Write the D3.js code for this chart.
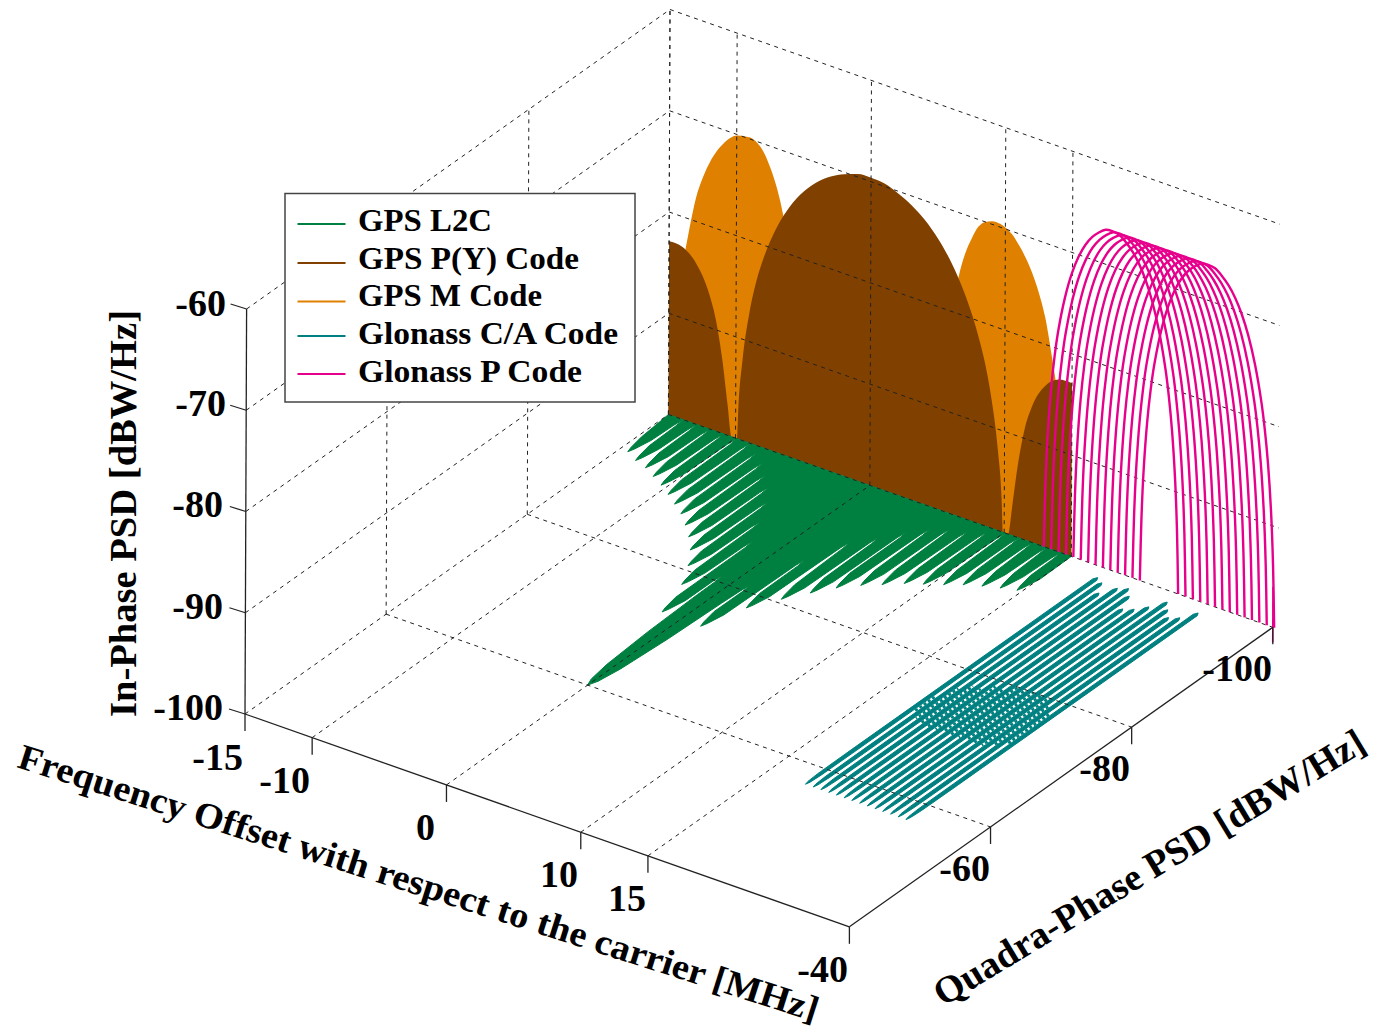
<!DOCTYPE html>
<html><head><meta charset="utf-8">
<script src="https://cdn.jsdelivr.net/npm/d3@7/dist/d3.min.js"></script>
<style>html,body{margin:0;padding:0;background:#fff;overflow:hidden}svg{display:block}text{font-family:"Liberation Serif","Times New Roman",serif;font-weight:bold;fill:#000}</style>
</head><body><svg id="c" width="1378" height="1033"></svg>
<script>
// ---- values ----
const freqTicks = [-15,-10,0,10,15];
const quadTicks = [-40,-60,-80,-100];
const inphaseTicks = [-100,-90,-80,-70,-60];

const pyFreq = [-15,-14,-13,-12,-11.5,-11,-10.6,-10.3,-9.9,-9.8,-9.5,-9,-8.5,-8,-7,-6,-5,-4,-3,-2,-1,0,1,2,3,4,5,6,7,8,8.5,9,9.5,9.8,9.9,10.3,10.6,11,11.5,12,13,14,15];
const pyZ = [-82.9,-83,-84.1,-86.7,-89,-92.8,-97,-100,-100,-96.8,-92,-87.1,-83.8,-81.4,-77.8,-75.2,-73.3,-71.9,-70.9,-70.2,-69.7,-69.6,-69.7,-70.2,-70.9,-71.9,-73.3,-75.2,-77.8,-81.4,-83.8,-87.1,-92,-96.8,-100,-100,-97,-92.8,-89,-86.7,-84.1,-83,-82.9];

const mFreq = [-15,-14.5,-14,-13.5,-13,-12.5,-12,-11.5,-11,-10.5,-10,-9.35,-9,-8.5,-8,-7.5,-7,-6.5,-6,-5.5,-5.2,5.2,5.5,6,6.5,7,7.5,8,8.5,9,9.35,10,10.5,11,11.5,12,12.5,13,13.5,14,14.5,15];
const mZ = [-98,-90,-85,-81,-77.6,-75.4,-73.7,-72.4,-71.4,-70.6,-70.1,-69.9,-69.85,-70.1,-70.8,-72.1,-73.9,-76.5,-80.6,-88.1,-100,-100,-88.1,-80.6,-76.6,-73.9,-72.1,-70.7,-70,-69.7,-69.65,-69.85,-70.3,-71.1,-72.1,-73.4,-75.1,-77.4,-81,-85,-90,-98];

// L2C: lobe tips and the nulls between them
const l2cTipFreq = [-14.4,-13.4,-12.4,-11.4,-10.4,-9.4,-8.4,-7.4,-6.4,-5.4,-4.4,-3.4,-2.4,-1.44,1.48,2.47,3.6,4.6,5.53,6.57,7.58,8.6,9.6,10.64,11.62,12.65,13.69,14.68];
const l2cTipQ = [-93.1,-92.3,-91.8,-91,-90.2,-89.3,-88.3,-87.3,-86,-84.6,-82.9,-80.7,-77.9,-73.3,-73.2,-77.8,-80.6,-82.8,-84.7,-86.2,-87.3,-88.5,-89.3,-90.2,-91.1,-91.8,-92.4,-92.9];
const l2cNullFreq = [-15,-13.9,-12.9,-11.9,-10.9,-9.9,-8.9,-7.9,-6.9,-5.9,-4.9,-3.9,-2.9,-1.9,-1,1.05,2,3,4.1,5.1,6.05,7.05,8.1,9.1,10.1,11.1,12.1,13.15,14.2,15];
const l2cNullQ = [-100,-100,-100,-100,-100,-100,-100,-99,-98,-96.5,-95,-93,-90,-87,-81,-81,-87,-91.5,-93.5,-95.5,-97,-98,-98.5,-99.3,-100,-100,-100,-100,-100,-100];
const l2cToothOffset = [-0.36,-0.14,0,0.14,0.36];
const l2cToothDrop = [2.6,0.7,0,0.7,2.6];
const l2cSlitHalf = 0.075;
const l2cSlitRise = 1.2;
const l2cMainFreq = [-0.9,-0.75,-0.5,-0.25,0,0.25,0.5,0.75,0.9];
const l2cMainQ = [-77.3,-70,-63.7,-61,-60,-61,-63.7,-70,-77.3];

const glonassPCenters = [17.95,18.5,19.05,19.6,20.15,20.7,21.25,21.8,22.35,22.9,23.45,24,24.55,25.1];
const glonassPOffset = [-5,-4.9,-4.75,-4.5,-4.25,-4,-3.5,-3,-2.5,-2,-1.5,-1,-0.5,0,0.5,1,1.5,2,2.5,3,3.5,4,4.25,4.5,4.75,4.9,5];
const glonassPZ = [-100,-93.9,-89,-84.1,-80.8,-78.3,-74.7,-72.1,-70.2,-68.8,-67.8,-67.1,-66.6,-66.5,-66.6,-67.1,-67.8,-68.8,-70.2,-72.1,-74.7,-78.3,-80.8,-84.1,-89,-93.9,-100];
const glonassPTailFreq = [30,30];
const glonassPTailZ = [-96,-101.5];

const glonassCACenters = [17.8,18.38,18.95,19.53,20.1,20.68,21.25,21.83,22.4,22.98,23.55,24.13,24.7,25.28];
const glonassCATail = [-98,-97.5,-96,-97.5,-98,-97,-95,-95.5,-96.5,-98,-97,-96,-96.5,-98];
const caTipOffset = [0,0.08,0.135,0.15];
const caTipQ = [-57,-57.5,-59,-64];
const caPatchFront = [-72,-71,-70.5,-70.5,-70.5,-70.5,-70.5,-70.5,-70.5,-70.5,-70.5,-71,-72];
const caPatchBack = [-75,-77,-78,-78,-79,-79,-80,-80,-80,-80,-80,-79,-78];

const legendNames = ["GPS L2C","GPS P(Y) Code","GPS M Code","Glonass C/A Code","Glonass P Code"];
const legendColors = ["#008040","#804000","#E08000","#008080","#E6008C"];
const colL2C="#008040", colPY="#804000", colM="#E08000", colCA="#008080", colP="#E6008C";

// ---- oblique projection built from linear scales ----
const fx=d3.scaleLinear([-15,30],[0,604.4]), fy=d3.scaleLinear([-15,30],[0,212.8]);
const qx=d3.scaleLinear([-40,-100],[0,423.4]), qy=d3.scaleLinear([-40,-100],[0,-299.5]);
const zx=d3.scaleLinear([-100,-60],[0,1.6]), zy=d3.scaleLinear([-100,-60],[0,-405]);
const P=(f,q,z)=>[245+fx(f)+qx(q)+zx(z),714+fy(f)+qy(q)+zy(z)];

const svg=d3.select("#c");
const lin=d3.line();
const smooth=d3.line().curve(d3.curveMonotoneX);

// back wall areas
function wallArea(F,Z,col){
  const pts=F.map((f,i)=>P(f,-100,Z[i]));
  svg.append("path").attr("d",smooth(pts)+"L"+P(F[F.length-1],-100,-100)+"L"+P(F[0],-100,-100)+"Z").attr("fill",col);
}
wallArea(mFreq,mZ,colM);
wallArea(pyFreq,pyZ,colPY);

// L2C on the floor
const l2cPts=[];
function pushNull(n,first,last){
  const f=l2cNullFreq[n], q=l2cNullQ[n];
  if(!first) l2cPts.push(P(f-l2cSlitHalf,q+l2cSlitRise,-100));
  l2cPts.push(P(f,q,-100));
  if(!last) l2cPts.push(P(f+l2cSlitHalf,q+l2cSlitRise,-100));
}
l2cTipFreq.forEach((t,i)=>{
  if(i===14){
    l2cMainFreq.forEach((f,j)=>l2cPts.push(P(f,l2cMainQ[j],-100)));
    pushNull(15);
  } else pushNull(i<14?i:i+1,i===0);
  l2cToothOffset.forEach((o,j)=>l2cPts.push(P(t+o,l2cTipQ[i]-l2cToothDrop[j],-100)));
  if(i===13) pushNull(14);
});
l2cPts.push(P(15,-100,-100));
svg.append("path").attr("d",lin(l2cPts)+"Z").attr("fill",colL2C).attr("stroke",colL2C).attr("stroke-width",1).attr("stroke-linejoin","round");

// Glonass C/A on the floor
glonassCACenters.forEach((c,k)=>{
  const tail=glonassCATail[k];
  const right=caTipOffset.map((o,i)=>P(c+o,caTipQ[i],-100)).concat([P(c+0.15,tail,-100),P(c,tail-0.4,-100),P(c-0.15,tail,-100)]);
  const left=caTipOffset.slice(1).map((o,i)=>P(c-o,caTipQ[i+1],-100)).reverse();
  svg.append("path").attr("d",lin(right.concat(left))+"Z").attr("fill",colCA).attr("stroke",colCA).attr("stroke-width",1).attr("stroke-linejoin","round");
});
// the mottled band where the side lobes of neighbouring channels cross
caPatchFront.forEach((q,k)=>{
  const f=(glonassCACenters[k]+glonassCACenters[k+1])/2;
  svg.append("path").attr("d",lin([P(f,q,-100),P(f,caPatchBack[k],-100)])).attr("fill","none").attr("stroke",colCA)
    .attr("stroke-width",2.6).attr("stroke-dasharray","3 2.2").attr("stroke-dashoffset",k*1.7);
});

// grid
const gridG=svg.append("g").attr("fill","none").attr("stroke","#222").attr("stroke-width",1).attr("stroke-dasharray","4 4.5");
const seg=(a,b)=>gridG.append("path").attr("d",lin([a,b]));
freqTicks.forEach(f=>{
  seg(P(f,-40,-100),P(f,-100,-100));
  seg(P(f,-100,-100),P(f,-100,-60));
});
quadTicks.slice(1).forEach(q=>{
  seg(P(-15,q,-100),P(30,q,-100));
  seg(P(-15,q,-100),P(-15,q,-60));
});
inphaseTicks.slice(1).forEach(z=>{
  seg(P(-15,-40,z),P(-15,-100,z));
  seg(P(-15,-100,z),P(30.4,-100,z));
});

// Glonass P lines
glonassPCenters.forEach(c=>{
  const pts=glonassPOffset.map((o,i)=>P(c+o,-100,glonassPZ[i]));
  svg.append("path").attr("d",d3.line().curve(d3.curveCatmullRom)(pts)).attr("fill","none").attr("stroke",colP).attr("stroke-width",2.4);
});
svg.append("path").attr("d",lin(glonassPTailFreq.map((f,i)=>P(f,-100,glonassPTailZ[i])))).attr("fill","none").attr("stroke",colP).attr("stroke-width",1.6);

// axes
const axG=svg.append("g").attr("stroke","#222").attr("stroke-width",1.3).attr("fill","none");
const ax=(a,b)=>axG.append("path").attr("d",lin([a,b]));
ax(P(-15,-40,-100),P(30,-40,-100));
ax(P(30,-40,-100),P(30,-100,-100));
ax(P(-15,-40,-100),P(-15,-40,-60));
const down=p=>[p[0],p[1]+17];
freqTicks.forEach(f=>{const p=P(f,-40,-100);ax(p,down(p));});
quadTicks.forEach(q=>{const p=P(30,q,-100);ax(p,down(p));});
inphaseTicks.forEach(z=>{const p=P(-15,-40,z);ax(p,[p[0]-16,p[1]-5]);});

const FS=38;
function label(t,x,y){
  svg.append("text").attr("x",x).attr("y",y).attr("font-size",FS).attr("text-anchor","end").text(t);
}
const zLabelPos=[[223,720],[223,619],[223,517],[226,416],[226,316]];
inphaseTicks.forEach((z,i)=>label(String(z),zLabelPos[i][0],zLabelPos[i][1]));
const fLabelPos=[[243,770],[310,793],[435,840],[578,887],[646,911]];
freqTicks.forEach((f,i)=>label(String(f),fLabelPos[i][0],fLabelPos[i][1]));
const qLabelPos=[[848,982],[990,881],[1130,781],[1272,681]];
quadTicks.forEach((q,i)=>label(String(q),qLabelPos[i][0],qLabelPos[i][1]));

function title(t,x,y,ang,len,size){
  svg.append("text").attr("transform",`translate(${x},${y}) rotate(${ang})`).attr("font-size",size)
    .attr("textLength",len).attr("lengthAdjust","spacingAndGlyphs").text(t);
}
title("In-Phase PSD [dBW/Hz]",136,717,-90,407,38);
title("Frequency Offset with respect to the carrier [MHz]",16,767,17.7,838,36);
title("Quadra-Phase PSD [dBW/Hz]",943,1007,-31.2,497,38);

// legend
svg.append("rect").attr("x",285).attr("y",193.5).attr("width",350).attr("height",208.5).attr("fill","#fff").attr("stroke","#444").attr("stroke-width",1.5);
const legLineY=[224,263,301.5,336,374], legTextY=[231,269,306,344,382], legLen=[134,221,184,260,224];
legendNames.forEach((n,i)=>{
  svg.append("line").attr("x1",297.5).attr("x2",345.5).attr("y1",legLineY[i]).attr("y2",legLineY[i]).attr("stroke",legendColors[i]).attr("stroke-width",2);
  svg.append("text").attr("x",358).attr("y",legTextY[i]).attr("font-size",32).attr("textLength",legLen[i]).attr("lengthAdjust","spacingAndGlyphs").text(n);
});
</script></body></html>
